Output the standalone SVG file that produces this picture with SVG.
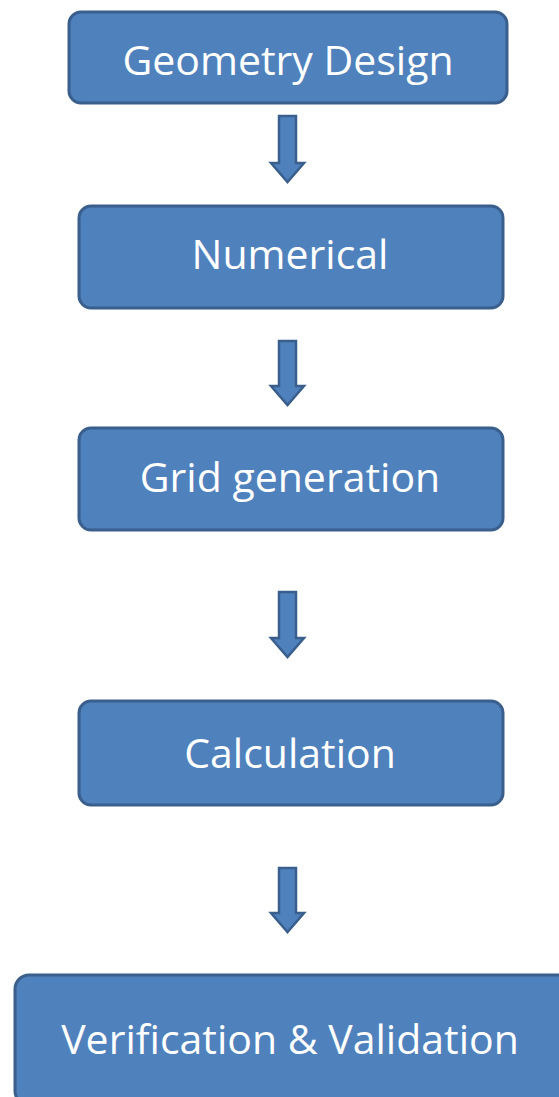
<svg xmlns="http://www.w3.org/2000/svg" width="559" height="1097" viewBox="0 0 559 1097">
<style>
.box{fill:#4F81BD;stroke:#3A5F8C;stroke-width:3}
.lbl{fill:#fff;font-family:"Open Sans","Liberation Sans",sans-serif;font-size:41px;text-anchor:middle}
.arr{fill:#4F81BD;stroke:#3A5F8C;stroke-width:2.5;stroke-linejoin:miter}
</style>
<rect width="559" height="1097" fill="#fff"/>
<g id="connectors">
<path class="arr" d="M279,116 H296 V163 H304 L287.5,182 L271,163 H279 Z"/>
<path class="arr" d="M279,341 H296 V386 H304 L287.5,405 L271,386 H279 Z"/>
<path class="arr" d="M279,592 H296 V638 H304 L287.5,657 L271,638 H279 Z"/>
<path class="arr" d="M279,868 H296 V913 H304 L287.5,932 L271,913 H279 Z"/>
</g>
<g id="n1"><rect class="box" x="69" y="12" width="438" height="91" rx="12"/><text class="lbl" x="288" y="75">Geometry Design</text></g>
<g id="n2"><rect class="box" x="79" y="206" width="424" height="102" rx="12"/><text class="lbl" x="290" y="269">Numerical</text></g>
<g id="n3"><rect class="box" x="79" y="428" width="424" height="102" rx="12"/><text class="lbl" x="290" y="492">Grid generation</text></g>
<g id="n4"><rect class="box" x="79" y="701" width="424" height="104" rx="12"/><text class="lbl" x="290" y="768">Calculation</text></g>
<g id="n5"><rect class="box" x="15" y="975" width="560" height="130" rx="14"/><text class="lbl" x="290" y="1054">Verification &amp; Validation</text></g>
</svg>
